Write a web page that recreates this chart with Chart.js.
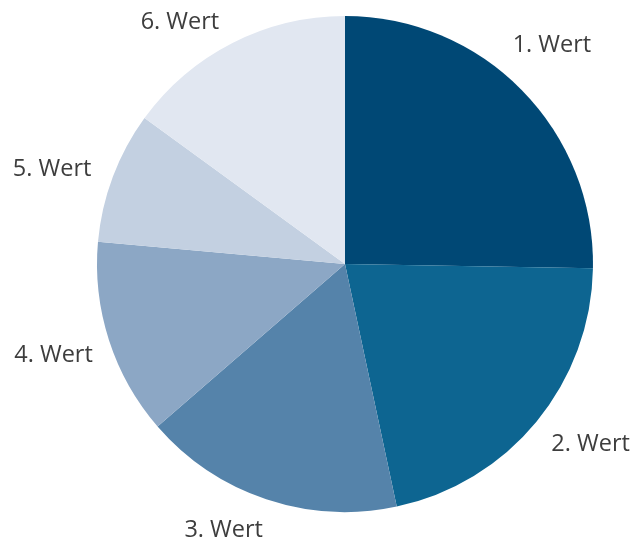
<!DOCTYPE html>
<html>
<head>
<meta charset="utf-8">
<script src="https://cdn.jsdelivr.net/npm/chart.js@4"></script>
<style>
  html, body { margin: 0; padding: 0; background: #fff; }
  #wrap { width: 637px; height: 542px; }
</style>
</head>
<body>
<div id="wrap"><canvas id="pie"></canvas></div>
<script>
  // Daten
  const labels = ["1. Wert", "2. Wert", "3. Wert", "4. Wert", "5. Wert", "6. Wert"];
  const values = [25.3, 21.4, 17.0, 12.8, 8.6, 15.0];
  const colors = ["#004875", "#0d6591", "#5583aa", "#8ca7c5", "#c3d0e1", "#e1e7f1"];

  // kleine Korrekturen der Beschriftungslage (px), wie im Original gesetzt
  const labelNudge = [[-7, -10], [14, -12], [-26, -20], [-6, -3], [-12, 9], [-29, 24]];

  // Beschriftung ausserhalb der Segmente
  const outsideLabels = {
    id: "outsideLabels",
    afterDatasetsDraw(chart) {
      const ctx = chart.ctx;
      const meta = chart.getDatasetMeta(0);
      ctx.save();
      ctx.font = "23.5px 'Open Sans'";
      ctx.fillStyle = "#3d3d3d";
      ctx.textAlign = "center";
      ctx.textBaseline = "alphabetic";
      meta.data.forEach((arc, i) => {
        const p = arc.getProps(["x", "y", "startAngle", "endAngle", "outerRadius"], true);
        const mid = (p.startAngle + p.endAngle) / 2;
        const r = p.outerRadius + 52;
        const x = p.x + Math.cos(mid) * r + labelNudge[i][0];
        const y = p.y + Math.sin(mid) * r + labelNudge[i][1];
        ctx.fillText(labels[i], x, y + 8.5);
      });
      ctx.restore();
    }
  };

  new Chart(document.getElementById("pie"), {
    type: "pie",
    data: {
      labels: labels,
      datasets: [{
        data: values,
        backgroundColor: colors,
        borderWidth: 0
      }]
    },
    options: {
      responsive: true,
      maintainAspectRatio: false,
      animation: false,
      layout: { padding: { top: 16, bottom: 30, left: 53, right: 0 } },
      plugins: {
        legend: { display: false },
        tooltip: { enabled: false }
      }
    },
    plugins: [outsideLabels]
  });
</script>
</body>
</html>
